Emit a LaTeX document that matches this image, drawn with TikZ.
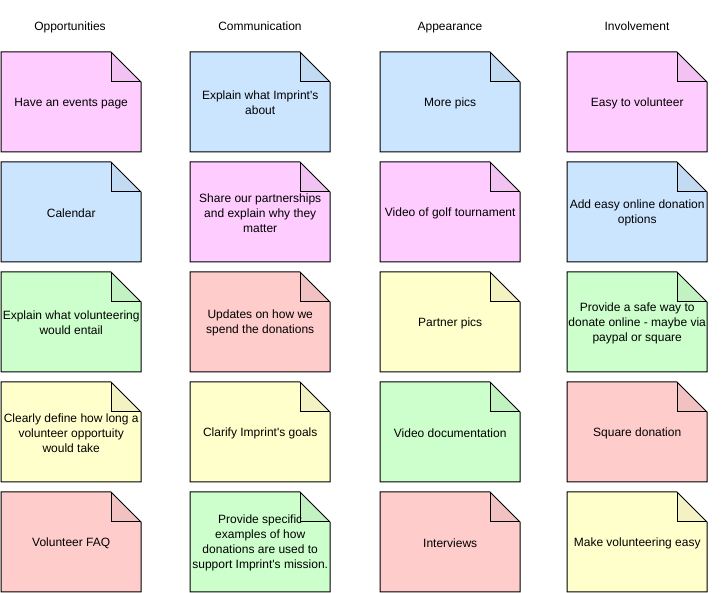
\documentclass[tikz,border=0pt]{standalone}
\usepackage{fontspec}
\setmainfont{Liberation Sans}[Ligatures=TeXOff]
\definecolor{npink}{HTML}{FFCCFF}
\definecolor{nblue}{HTML}{CCE5FF}
\definecolor{ngreen}{HTML}{CCFFCC}
\definecolor{nred}{HTML}{FFCCCC}
\definecolor{nyellow}{HTML}{FFFFCC}
\tikzset{
  notebox/.style={anchor=north west, minimum width=140pt, minimum height=100pt, inner sep=0pt, align=center, font=\fontsize{12}{15}\selectfont, text=black},
  noteline/.style={draw=black, line width=1pt, line join=miter},
  header/.style={anchor=base, font=\fontsize{12}{15}\selectfont, text=black},
}
\newcommand\mknote[5]{%
  \fill[#4] (#2,#3) -- ++(110,0) -- ++(30,30) -- ++(0,70) -- ++(-140,0) -- cycle;
  \fill[#4!95!black] (#2+110,#3) -- ++(0,30) -- ++(30,0) -- cycle;
  \node[notebox] (#1) at (#2,#3+1) {#5};
  \draw[noteline] (#2,#3) -- ++(110,0) -- ++(30,30) -- ++(0,70) -- ++(-140,0) -- cycle;
  \draw[noteline] (#2+110,#3) -- ++(0,30) -- ++(30,0);
}
\begin{document}
\begin{tikzpicture}[x=1pt,y=-1pt]
\useasboundingbox (0,0) rectangle (721,593);
\node[header] (h1) at (70,30.5) {Opportunities};
\node[header] (h2) at (260,30.5) {Communication};
\node[header] (h3) at (450,30.5) {Appearance};
\node[header] (h4) at (637,30.5) {Involvement};
% column 1
\mknote{a1}{1}{52}{npink}{Have an events page}
\mknote{a2}{1}{162}{nblue}{Calendar}
\mknote{a3}{1}{272}{ngreen}{Explain what volunteering\\would entail}
\mknote{a4}{1}{382}{nyellow}{Clearly define how long a\\volunteer opportuity\\would take}
\mknote{a5}{1}{492}{nred}{Volunteer FAQ}
% column 2
\mknote{b1}{190}{52}{nblue}{Explain what Imprint's\\about}
\mknote{b2}{190}{162}{npink}{Share our partnerships\\and explain why they\\matter}
\mknote{b3}{190}{272}{nred}{Updates on how we\\spend the donations}
\mknote{b4}{190}{382}{nyellow}{Clarify Imprint's goals}
\mknote{b5}{190}{492}{ngreen}{Provide specific\\examples of how\\donations are used to\\support Imprint's mission.}
% column 3
\mknote{c1}{380}{52}{nblue}{More pics}
\mknote{c2}{380}{162}{npink}{Video of golf tournament}
\mknote{c3}{380}{272}{nyellow}{Partner pics}
\mknote{c4}{380}{382}{ngreen}{Video documentation}
\mknote{c5}{380}{492}{nred}{Interviews}
% column 4
\mknote{d1}{567}{52}{npink}{Easy to volunteer}
\mknote{d2}{567}{162}{nblue}{Add easy online donation\\options}
\mknote{d3}{567}{272}{ngreen}{Provide a safe way to\\donate online - maybe via\\paypal or square}
\mknote{d4}{567}{382}{nred}{Square donation}
\mknote{d5}{567}{492}{nyellow}{Make volunteering easy}
\end{tikzpicture}
\end{document}
